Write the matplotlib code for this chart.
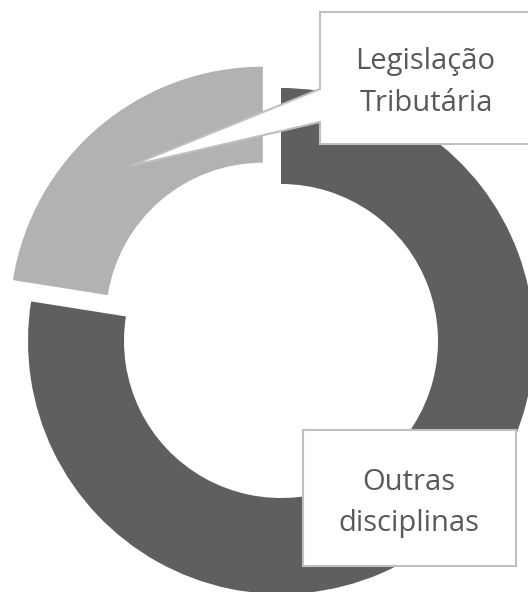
import matplotlib
matplotlib.use("Agg")
import matplotlib.pyplot as plt
from matplotlib.patches import Polygon, Rectangle

# data
labels = ["Outras disciplinas", "Legislação Tributária"]
values = [77.5, 22.5]
colors = ["#5f5f5f", "#b2b2b2"]
explode = [0, 28]

W, H = 528, 592
CX, CY = 281, H - 341       # centre of the ring, pixel coords (y up)
R_OUT = 253
RING = 96

plt.rcParams["font.family"] = ["Open Sans", "DejaVu Sans"]

fig = plt.figure(figsize=(W / 100, H / 100), dpi=100)
ax = fig.add_axes([0, 0, 1, 1])

ax.pie(values, colors=colors, radius=R_OUT, center=(CX, CY),
       startangle=90, counterclock=False, explode=explode,
       wedgeprops=dict(width=RING, linewidth=0))

ax.set_xlim(0, W)
ax.set_ylim(0, H)
ax.set_aspect("auto")
ax.axis("off")


def py(y):
    # screen y (top down) -> data y
    return H - y


BORDER = "#bfbfbf"
TXT = "#595959"
FS = 21

# callout box for Legislação Tributária
callout = [(320, 12), (540, 12), (540, 144), (320, 144),
           (320, 122), (130, 166), (320, 89)]
ax.add_patch(Polygon([(x, py(y)) for x, y in callout], closed=True,
                     facecolor="white", edgecolor=BORDER, linewidth=1.5,
                     zorder=5))
ax.text(425, py(69), "Legislação", ha="center", va="baseline",
        fontsize=FS, color=TXT, zorder=6)
ax.text(427, py(111), "Tributária", ha="center", va="baseline",
        fontsize=FS, color=TXT, zorder=6)

# box for Outras disciplinas
ax.add_patch(Rectangle((303, py(566)), 213, 136, facecolor="white",
                       edgecolor=BORDER, linewidth=1.5, zorder=5))
ax.text(409, py(490), "Outras", ha="center", va="baseline",
        fontsize=FS, color=TXT, zorder=6)
ax.text(409, py(531), "disciplinas", ha="center", va="baseline",
        fontsize=FS, color=TXT, zorder=6)

fig.savefig("out.png", dpi=100)
